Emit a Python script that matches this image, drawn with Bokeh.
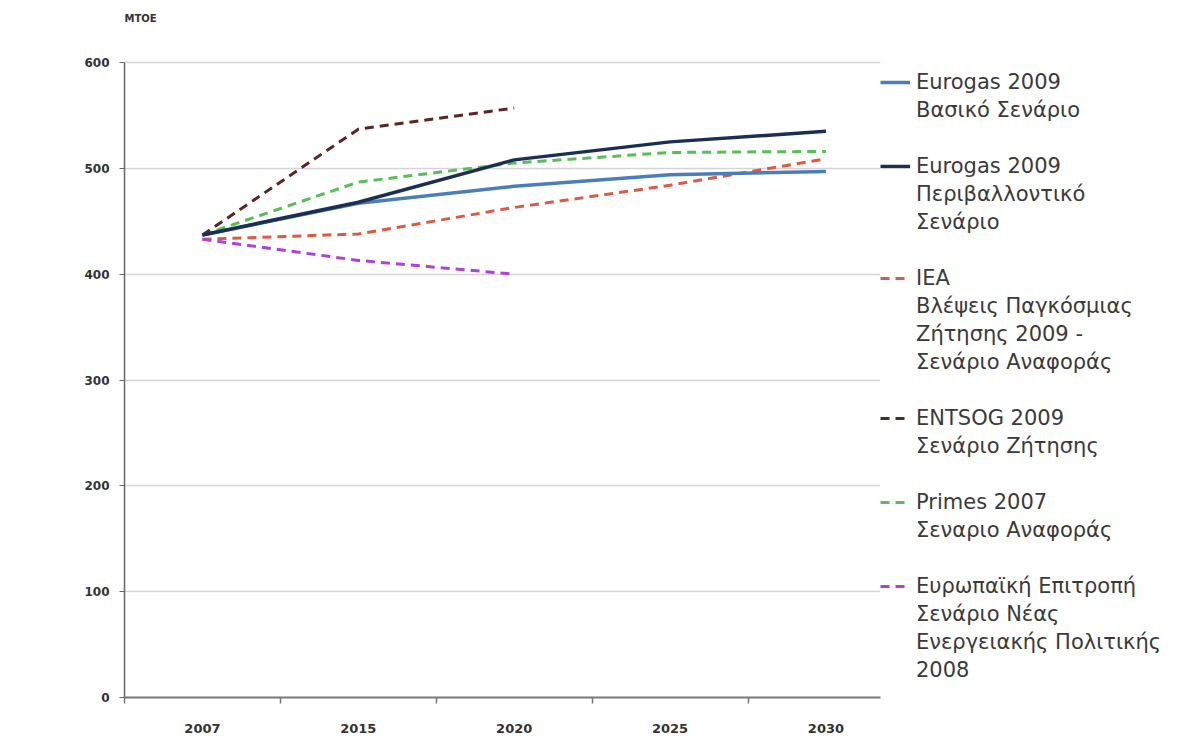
import numpy as np
from bokeh.plotting import figure
from bokeh.models import Range1d, FixedTicker, Legend, LegendItem, Label
from bokeh.embed import file_html
from bokeh.resources import INLINE

years = ["2007", "2015", "2020", "2025", "2030"]
eurogas_basic = [437, 467, 483, 494, 497]
eurogas_env = [437, 468, 508, 525, 535]
iea = [433, 438, 463, 484, 509]
entsog = [437, 537, 557, np.nan, np.nan]
primes = [437, 487, 505, 515, 516]
ec = [433, 413, 400, np.nan, np.nan]

labels = [
    ["Eurogas 2009", "Βασικό Σενάριο"],
    ["Eurogas 2009", "Περιβαλλοντικό", "Σενάριο"],
    ["IEA", "Βλέψεις Παγκόσμιας", "Ζήτησης 2009 -", "Σενάριο Αναφοράς"],
    ["ENTSOG 2009", "Σενάριο Ζήτησης"],
    ["Primes 2007", "Σεναριο Αναφοράς"],
    ["Ευρωπαϊκή Επιτροπή", "Σενάριο Νέας", "Ενεργειακής Πολιτικής", "2008"],
]
y_ticks = [0, 100, 200, 300, 400, 500, 600]

xs = [i + 0.5 for i in range(len(years))]

# layout geometry (pixels)
W, H = 1182, 740
LEFT, TOP, BOTTOM = 124, 5, 43
FRAME_W = W - LEFT
FRAME_H = H - TOP - BOTTOM
PLOT_W = 756          # visible width of the chart area
PLOT_H = 635          # visible height of the chart area (0..600)
N_CAT = 4.85          # visible categories span
x_end = N_CAT * FRAME_W / PLOT_W
y_end = y_ticks[-1] * FRAME_H / PLOT_H

p = figure(width=W, height=H, output_backend="svg", toolbar_location=None,
           x_range=Range1d(0, x_end), y_range=Range1d(0, y_end),
           min_border_left=LEFT, min_border_top=TOP, min_border_bottom=BOTTOM,
           min_border_right=0)
p.background_fill_color = "white"
p.border_fill_color = "white"
p.outline_line_color = None

p.add_layout(Label(x=0, y=FRAME_H - 13, x_units="screen", y_units="screen",
                   text="MTOE", text_font="DejaVu Sans", text_font_size="10px",
                   text_font_style="bold", text_color="#333333",
                   text_baseline="middle", text_align="left"))

# axes
p.xaxis.ticker = FixedTicker(ticks=xs, minor_ticks=list(range(len(years))))
p.xaxis.bounds = (0, N_CAT)
p.xaxis.major_label_overrides = {x: y for x, y in zip(xs, years)}
p.xaxis.major_tick_line_color = None
p.xaxis.major_tick_out = 0
p.xaxis.major_tick_in = 0
p.xaxis.minor_tick_out = 6
p.xaxis.minor_tick_in = 0
p.xaxis.minor_tick_line_color = "#777777"
p.xaxis.minor_tick_line_width = 1.5
p.xaxis.axis_line_color = "#777777"
p.xaxis.axis_line_width = 2
p.xaxis.major_label_standoff = 20
p.xaxis.major_label_text_font = "DejaVu Sans"
p.xaxis.major_label_text_font_size = "13px"
p.xaxis.major_label_text_font_style = "bold"
p.xaxis.major_label_text_color = "#333333"

p.yaxis.ticker = FixedTicker(ticks=y_ticks)
p.yaxis.bounds = (0, y_ticks[-1])
p.yaxis.minor_tick_line_color = None
p.yaxis.major_tick_out = 5
p.yaxis.major_tick_in = 0
p.yaxis.major_tick_line_color = "#666666"
p.yaxis.axis_line_color = "#666666"
p.yaxis.axis_line_width = 1.5
p.yaxis.major_label_standoff = 10
p.yaxis.major_label_text_font = "DejaVu Sans"
p.yaxis.major_label_text_font_size = "12px"
p.yaxis.major_label_text_font_style = "bold"
p.yaxis.major_label_text_color = "#333333"

p.xgrid.grid_line_color = None
p.ygrid.ticker = FixedTicker(ticks=y_ticks[1:])
p.ygrid.cross_bounds = (0, N_CAT)
p.ygrid.grid_line_color = "#D4D4D8"
p.ygrid.grid_line_width = 1.5

dash = "9 6"
r_iea = p.line(xs, iea, line_color="#E2583E", line_width=3, line_dash=dash)
r_pri = p.line(xs, primes, line_color="#55C055", line_width=3, line_dash=dash)
r_ent = p.line(xs, entsog, line_color="#5C2422", line_width=3, line_dash=dash)
r_ec = p.line(xs, ec, line_color="#B03FE0", line_width=3, line_dash=dash)
r_bas = p.line(xs, eurogas_basic, line_color="#4A7EBB", line_width=3.5)
r_env = p.line(xs, eurogas_env, line_color="#1B2F55", line_width=3.5)

renderers = [r_bas, r_env, r_iea, r_ent, r_pri, r_ec]
items = []
for k, (lines, r) in enumerate(zip(labels, renderers)):
    if k > 0:
        items.append(LegendItem(label=" ", renderers=[]))
    for j, line in enumerate(lines):
        items.append(LegendItem(label=line, renderers=[r] if j == 0 else []))

n_rows = len(items)
ROW_H = 28
legend_h = n_rows * ROW_H + 8
legend = Legend(items=items, location=(PLOT_W, (FRAME_H - (60 - TOP)) - legend_h))
legend.margin = 0
legend.padding = 4
legend.spacing = 0
legend.glyph_width = 30
legend.glyph_height = ROW_H
legend.label_height = ROW_H
legend.label_standoff = 6
legend.border_line_color = None
legend.background_fill_color = "white"
legend.background_fill_alpha = 1
legend.label_text_font = "DejaVu Sans"
legend.label_text_font_size = "21px"
legend.label_text_color = "#3A3A3A"
p.add_layout(legend)

open("out.html", "w").write(file_html(p, INLINE))
